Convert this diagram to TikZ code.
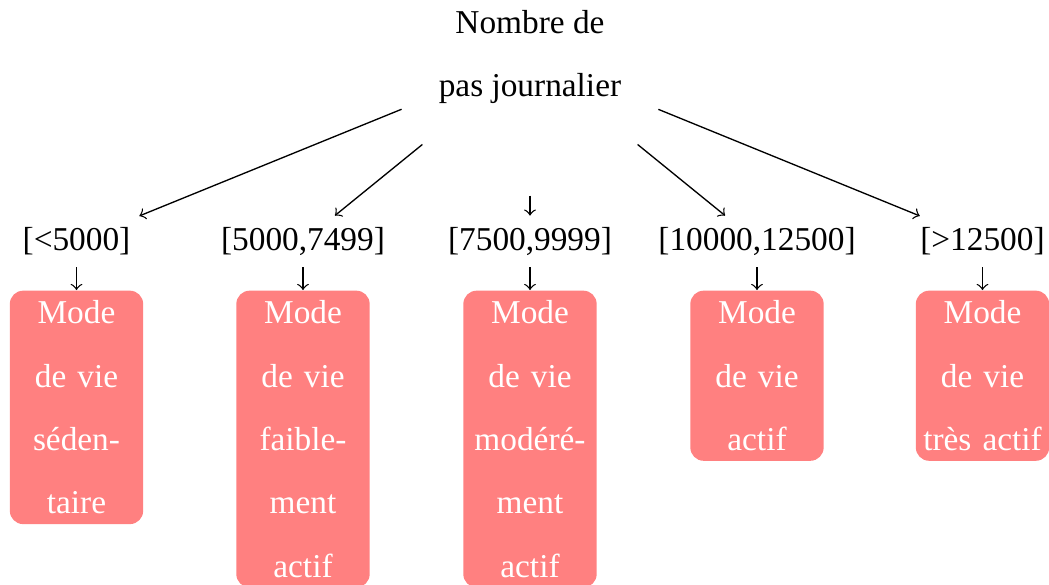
\documentclass[tikz,border=0pt]{standalone}
\usepackage{fontspec}
\setmainfont{Liberation Serif}
\begin{document}
\begin{tikzpicture}[x=0.3pt,y=-0.3pt,
  every node/.style={font=\fontsize{10}{19}\selectfont},
  rootnode/.style={circle,minimum size=82.8pt,inner sep=0pt,align=center},
  rangenode/.style={inner sep=0.3333em},
  modebox/.style={fill=red!50,text=white,rounded corners=4pt,text width=35pt,
    inner xsep=2.5pt,inner ysep=3pt,align=center,anchor=north},
  link/.style={->}]
\useasboundingbox (0,0) rectangle (1049,584);
\node[rootnode] (root) at (530,57) {Nombre de\\pas journalier};
\node[rangenode] (r1) at (76.5,241.5) {[<5000]};
\node[rangenode] (r2) at (303,241.5) {[5000,7499]};
\node[rangenode] (r3) at (530,241.5) {[7500,9999]};
\node[rangenode] (r4) at (757,241.5) {[10000,12500]};
\node[rangenode] (r5) at (982.5,241.5) {[>12500]};
\node[modebox] (m1) at (76.5,290) {Mode\\de vie\\séden-\\taire};
\node[modebox] (m2) at (303,290) {Mode\\de vie\\faible-\\ment\\actif};
\node[modebox] (m3) at (530,290) {Mode\\de vie\\modéré-\\ment\\actif};
\node[modebox] (m4) at (757,290) {Mode\\de vie\\actif};
\node[modebox] (m5) at (982.5,290) {Mode\\de vie\\\makebox[35pt][c]{très actif}};
\foreach \i in {1,...,5}{
  \draw[link] (root) -- (r\i);
  \draw[link] (r\i) -- (m\i);
}
\end{tikzpicture}
\end{document}
